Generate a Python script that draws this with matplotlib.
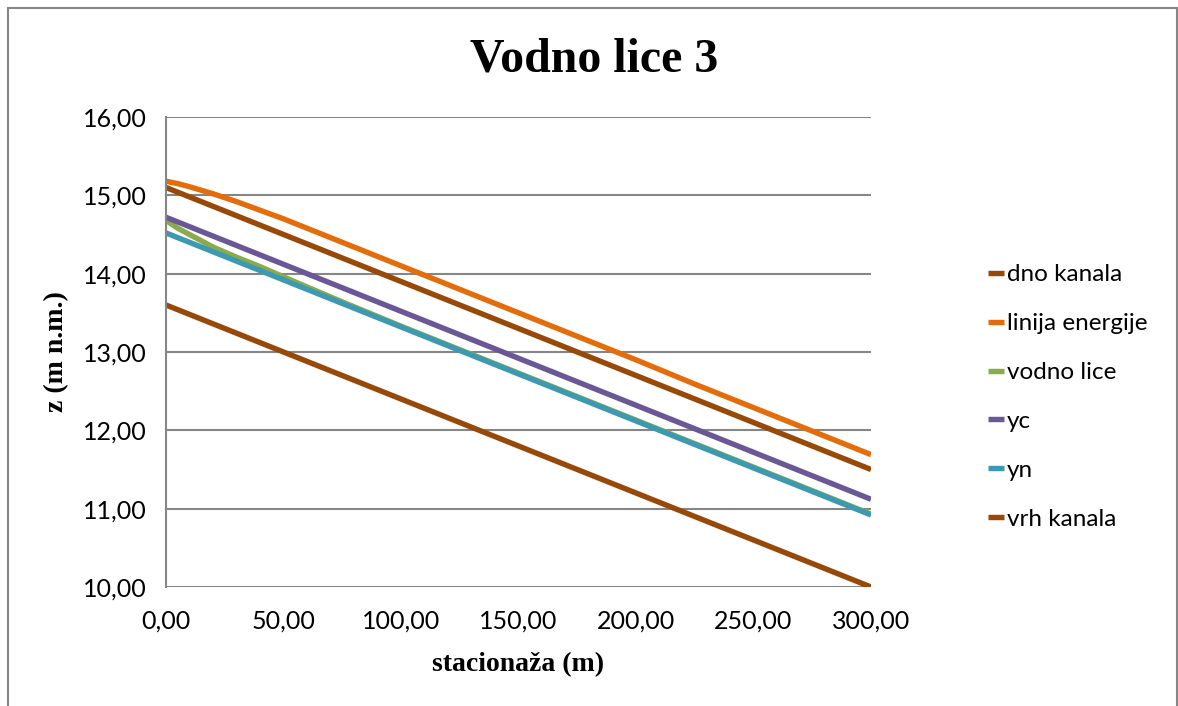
import matplotlib
matplotlib.use("Agg")
import matplotlib.pyplot as plt
from matplotlib.patches import Rectangle

stations = [0, 5, 10, 20, 30, 40, 50, 60, 75, 100, 125, 150, 175, 200, 225, 250, 275, 300]
dno_kanala = [13.60, 13.54, 13.48, 13.36, 13.24, 13.12, 13.00, 12.88, 12.70, 12.40,
              12.10, 11.80, 11.50, 11.20, 10.90, 10.60, 10.30, 10.00]
linija_energije = [15.18, 15.15, 15.11, 15.02, 14.92, 14.81, 14.70, 14.58, 14.40, 14.10,
                   13.80, 13.50, 13.20, 12.90, 12.59, 12.29, 11.99, 11.69]
vodno_lice = [14.68, 14.58, 14.50, 14.34, 14.21, 14.09, 13.96, 13.83, 13.64, 13.33,
              13.03, 12.73, 12.43, 12.13, 11.83, 11.53, 11.23, 10.93]
yc = [14.72, 14.66, 14.60, 14.48, 14.36, 14.24, 14.12, 14.00, 13.82, 13.52,
      13.22, 12.92, 12.62, 12.32, 12.02, 11.72, 11.42, 11.12]
yn = [14.52, 14.46, 14.40, 14.28, 14.16, 14.04, 13.92, 13.80, 13.62, 13.32,
      13.02, 12.72, 12.42, 12.12, 11.82, 11.52, 11.22, 10.92]
vrh_kanala = [15.10, 15.04, 14.98, 14.86, 14.74, 14.62, 14.50, 14.38, 14.20, 13.90,
              13.60, 13.30, 13.00, 12.70, 12.40, 12.10, 11.80, 11.50]

series = [
    ("dno kanala", dno_kanala, "#984807"),
    ("linija energije", linija_energije, "#E46C0A"),
    ("vodno lice", vodno_lice, "#8AAB4C"),
    ("yc", yc, "#6A5896"),
    ("yn", yn, "#3D98B2"),
    ("vrh kanala", vrh_kanala, "#984807"),
]

x_ticks = [0, 50, 100, 150, 200, 250, 300]
y_ticks = [10, 11, 12, 13, 14, 15, 16]

fig = plt.figure(figsize=(11.78, 7.06), dpi=100)
ax = fig.add_axes([166/1178, 1 - 587/706, (871-166)/1178, (587-117)/706])

for name, vals, col in series:
    ax.plot(stations, vals, color=col, lw=3.9, label=name, solid_capstyle="butt")

ax.set_xlim(0, 300)
ax.set_ylim(10, 16)
ax.set_xticks(x_ticks)
ax.set_yticks(y_ticks)
ax.set_xticklabels([f"{v:.2f}".replace(".", ",") for v in x_ticks])
ax.set_yticklabels([f"{v:.2f}".replace(".", ",") for v in y_ticks])
ax.tick_params(axis="x", length=0, labelsize=18, pad=16)
ax.tick_params(axis="y", length=0, labelsize=18, pad=14)
for lab in ax.get_xticklabels() + ax.get_yticklabels():
    lab.set_fontfamily("Lato")
ax.yaxis.grid(True, color="#868686", lw=1.5)
ax.set_axisbelow(True)
for s in ["top", "right", "bottom"]:
    ax.spines[s].set_visible(False)
ax.spines["left"].set_color("#868686")
ax.spines["left"].set_linewidth(1.5)

ax.set_xlabel("stacionaža (m)", fontfamily="Liberation Serif", fontweight="bold", fontsize=20, labelpad=14)
ax.set_ylabel("z (m n.m.)", fontfamily="Liberation Serif", fontweight="bold", fontsize=20, labelpad=10)
fig.text(594/1178, 1 - 60/706, "Vodno lice 3", ha="center", va="center",
         fontfamily="Liberation Serif", fontweight="bold", fontsize=34.5)

leg = ax.legend(loc="center left", bbox_to_anchor=(978/1178, 1 - 397/706),
                bbox_transform=fig.transFigure, frameon=False,
                prop={"family": "Lato", "size": 17.5}, handlelength=0.65,
                handletextpad=0.15, labelspacing=1.15, borderaxespad=0)

fig.patches.append(Rectangle((7.5/1178, -0.05), 1169/1178, 1 - 7.5/706 + 0.05,
                             transform=fig.transFigure, fill=False,
                             edgecolor="#868686", lw=1.5))

fig.savefig("out.png", dpi=100)
